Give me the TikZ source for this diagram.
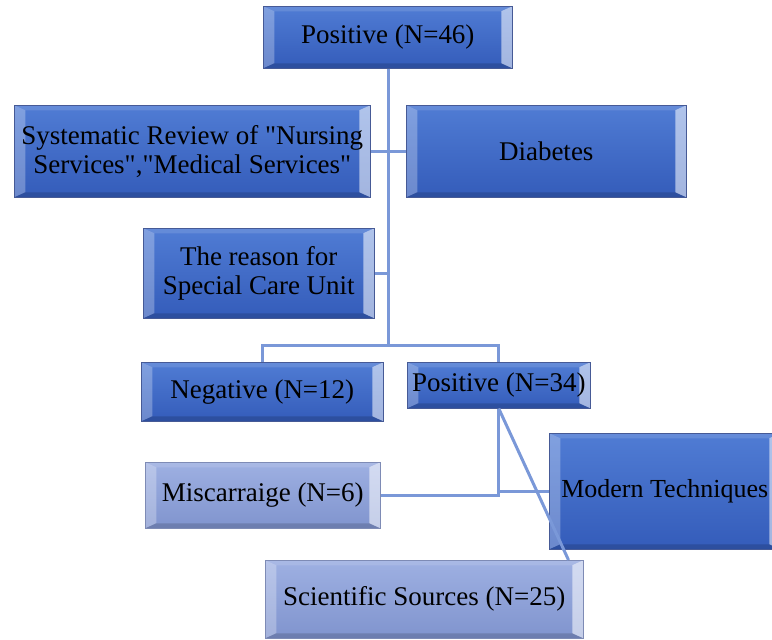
\documentclass[tikz,border=0pt]{standalone}
\usepackage{fontspec}
\setmainfont{Liberation Serif}
\newfontfamily\plainqfont{Liberation Serif}
\usetikzlibrary{calc}
\definecolor{darkA}{RGB}{80,124,212}
\definecolor{darkB}{RGB}{52,92,186}
\definecolor{lightA}{RGB}{158,176,226}
\definecolor{lightB}{RGB}{128,148,206}
\definecolor{edgeC}{RGB}{70,90,150}
\definecolor{linkC}{RGB}{122,152,216}
\newcommand{\dq}{{\plainqfont\symbol{34}}}
\tikzset{
  bevel/.style={path picture={
    \fill[white,opacity=.55] let \p1=(path picture bounding box.south west), \p2=(path picture bounding box.north east) in
      (\x2,\y1) -- (\x2,\y2) -- (\x2-11pt,\y2-5pt) -- (\x2-11pt,\y1+5pt) -- cycle;
    \fill[white,opacity=.28] let \p1=(path picture bounding box.south west), \p2=(path picture bounding box.north east) in
      (\x1,\y1) -- (\x1,\y2) -- (\x1+11pt,\y2-5pt) -- (\x1+11pt,\y1+5pt) -- cycle;
    \fill[white,opacity=.12] let \p1=(path picture bounding box.south west), \p2=(path picture bounding box.north east) in
      (\x1,\y2) -- (\x2,\y2) -- (\x2-11pt,\y2-5pt) -- (\x1+11pt,\y2-5pt) -- cycle;
    \fill[black,opacity=.15] let \p1=(path picture bounding box.south west), \p2=(path picture bounding box.north east) in
      (\x1,\y1) -- (\x2,\y1) -- (\x2-11pt,\y1+5pt) -- (\x1+11pt,\y1+5pt) -- cycle;
  }},
  darkbox/.style={bevel, top color=darkA, bottom color=darkB, draw=edgeC, line width=0.5pt,
    inner sep=0pt, anchor=north west, align=center, font=\fontsize{27}{29}\selectfont},
  lightbox/.style={bevel, top color=lightA, bottom color=lightB, draw=edgeC!70, line width=0.5pt,
    inner sep=0pt, anchor=north west, align=center, font=\fontsize{27}{29}\selectfont},
  link/.style={draw=linkC, line width=3pt},
}
\begin{document}
\begin{tikzpicture}[x=1pt,y=-1pt]
\useasboundingbox (0,0) rectangle (772,640);
\node[darkbox, minimum width=249pt, minimum height=62pt] (top) at (263,6) {Positive (N=46)};
\node[darkbox, minimum width=356pt, minimum height=92pt] (sys) at (14,105) {Systematic Review of \dq Nursing\\Services\dq,\dq Medical Services\dq};
\node[darkbox, minimum width=280pt, minimum height=92pt] (dia) at (406,105) {Diabetes};
\node[darkbox, minimum width=231pt, minimum height=90pt] (rea) at (143,228) {The reason for\\Special Care Unit};
\node[darkbox, minimum width=242pt, minimum height=59pt] (neg) at (141,362) {Negative (N=12)};
\node[darkbox, minimum width=183pt, minimum height=46pt] (p34) at (407,362) {Positive (N=34)};
\node[lightbox, minimum width=235pt, minimum height=66pt] (mis) at (145,462) {Miscarraige (N=6)};
\node[darkbox, minimum width=231pt, minimum height=116pt, font=\fontsize{26}{29}\selectfont] (mod) at (549,433) {Modern Techniques};
\node[lightbox, minimum width=318pt, minimum height=78pt] (sci) at (265,560) {Scientific Sources (N=25)};
\coordinate (split) at (388,345);
\coordinate (sciend) at ($(sci.north east)+(-15,0)$);
\draw[link] (top.south -| split) -- (split);
\draw[link] (sys.east) -- (dia.west);
\draw[link] (rea.east) -- (rea.east -| split);
\draw[link] (neg.north) |- (split) -| (p34.north);
\draw[link] (p34.south) |- (mis.east);
\draw[link] (p34.south) |- (mod.west);
\draw[link] (p34.south) -- (sciend);
\end{tikzpicture}
\end{document}
